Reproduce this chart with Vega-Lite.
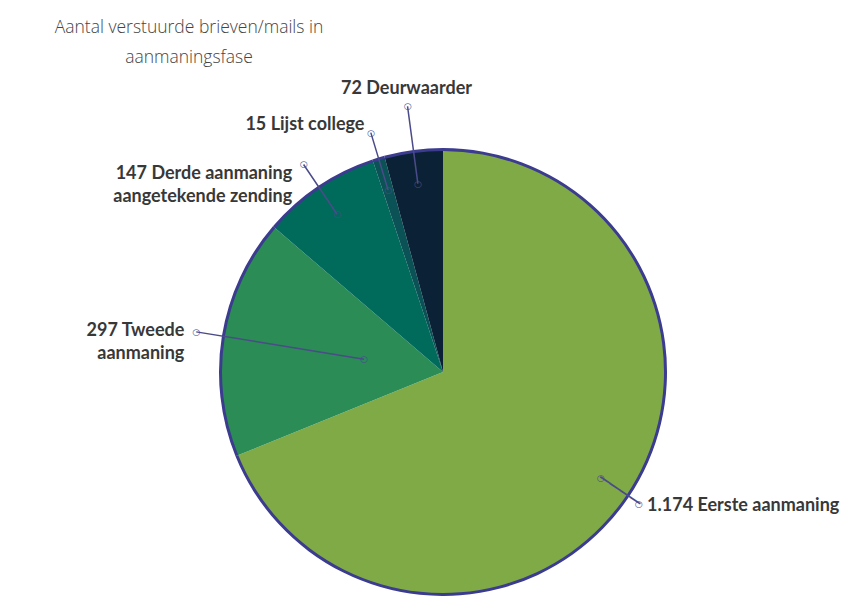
{
  "$schema": "https://vega.github.io/schema/vega-lite/v6.json",
  "width": 826,
  "height": 448,
  "autosize": "none",
  "padding": {"left": 30, "top": 148, "right": 0, "bottom": 0},
  "background": "white",
  "title": {
    "text": ["Aantal verstuurde brieven/mails in", "aanmaningsfase"],
    "anchor": "start",
    "frame": "group",
    "align": "center",
    "dx": 159,
    "offset": 14,
    "font": "Open Sans",
    "fontSize": 17.5,
    "fontWeight": 300,
    "color": "#454545",
    "lineHeight": 30
  },
  "config": {"view": {"stroke": null}},
  "data": {
    "values": [
      {"categorie": "Eerste aanmaning", "aantal": 1174, "volgorde": 1, "label": "1.174  Eerste aanmaning"},
      {"categorie": "Tweede aanmaning", "aantal": 297, "volgorde": 2, "label": "297 Tweede\naanmaning"},
      {"categorie": "Derde aanmaning aangetekende zending", "aantal": 147, "volgorde": 3, "label": "147 Derde aanmaning\naangetekende zending"},
      {"categorie": "Lijst college", "aantal": 15, "volgorde": 4, "label": "15 Lijst college"},
      {"categorie": "Deurwaarder", "aantal": 72, "volgorde": 5, "label": "72 Deurwaarder"}
    ]
  },
  "encoding": {
    "theta": {"field": "aantal", "type": "quantitative", "stack": true},
    "order": {"field": "volgorde", "type": "quantitative"}
  },
  "layer": [
    {
      "mark": {"type": "arc", "radius": 222, "strokeWidth": 0},
      "encoding": {
        "color": {
          "field": "categorie",
          "type": "nominal",
          "scale": {
            "domain": ["Eerste aanmaning", "Tweede aanmaning", "Derde aanmaning aangetekende zending", "Lijst college", "Deurwaarder"],
            "range": ["#80aa45", "#2b8c55", "#006a5b", "#0b5257", "#0b2236"]
          },
          "legend": null
        }
      }
    },
    {
      "mark": {"type": "arc", "radius": 224, "radius2": 221, "color": "#3b3b8f"}
    },
    {
      "mark": {"type": "text", "radius": 213, "angle": 34, "font": "DejaVu Sans Mono", "fontSize": 20, "color": "#4b4b8a", "align": "center", "baseline": "middle"},
      "encoding": {
        "text": {"condition": {"test": "datum.categorie === 'Eerste aanmaning'", "value": "────"}, "value": ""}
      }
    },
    {
      "mark": {"type": "arc", "radius": 250, "radius2": 80, "padAngle": 3.14, "filled": false, "stroke": "#4b4b8a", "strokeWidth": 1.5},
      "encoding": {"opacity": {"condition": {"test": "datum.categorie === 'Tweede aanmaning'", "value": 1}, "value": 0}}
    },
    {
      "mark": {"type": "arc", "radius": 250, "radius2": 190, "padAngle": 3.14, "filled": false, "stroke": "#4b4b8a", "strokeWidth": 1.5},
      "encoding": {"opacity": {"condition": {"test": "datum.categorie === 'Lijst college' || datum.categorie === 'Derde aanmaning aangetekende zending'", "value": 1}, "value": 0}}
    },
    {
      "mark": {"type": "arc", "radius": 268, "radius2": 190, "padAngle": 3.14, "filled": false, "stroke": "#4b4b8a", "strokeWidth": 1.5},
      "encoding": {"opacity": {"condition": {"test": "datum.categorie === 'Deurwaarder'", "value": 1}, "value": 0}}
    },
    {
      "mark": {"type": "text", "radius": 190, "font": "DejaVu Sans", "fontSize": 9, "color": "#4b4b8a", "align": "center", "baseline": "middle"},
      "encoding": {
        "text": {"value": "○"},
        "opacity": {"condition": {"test": "datum.categorie !== 'Tweede aanmaning'", "value": 1}, "value": 0}
      }
    },
    {
      "mark": {"type": "text", "radius": 80, "font": "DejaVu Sans", "fontSize": 9, "color": "#4b4b8a", "align": "center", "baseline": "middle"},
      "encoding": {
        "text": {"value": "○"},
        "opacity": {"condition": {"test": "datum.categorie === 'Tweede aanmaning'", "value": 1}, "value": 0}
      }
    },
    {
      "mark": {"type": "text", "radius": 236, "font": "DejaVu Sans", "fontSize": 9, "color": "#4b4b8a", "align": "center", "baseline": "middle"},
      "encoding": {
        "text": {"value": "○"},
        "opacity": {"condition": {"test": "datum.categorie === 'Eerste aanmaning'", "value": 1}, "value": 0}
      }
    },
    {
      "mark": {"type": "text", "radius": 250, "font": "DejaVu Sans", "fontSize": 9, "color": "#4b4b8a", "align": "center", "baseline": "middle"},
      "encoding": {
        "text": {"value": "○"},
        "opacity": {"condition": {"test": "datum.categorie === 'Tweede aanmaning' || datum.categorie === 'Lijst college' || datum.categorie === 'Derde aanmaning aangetekende zending'", "value": 1}, "value": 0}
      }
    },
    {
      "mark": {"type": "text", "radius": 268, "font": "DejaVu Sans", "fontSize": 9, "color": "#4b4b8a", "align": "center", "baseline": "middle"},
      "encoding": {
        "text": {"value": "○"},
        "opacity": {"condition": {"test": "datum.categorie === 'Deurwaarder'", "value": 1}, "value": 0}
      }
    },
    {
      "mark": {"type": "text", "radius": 258, "dx": -4, "align": "right", "baseline": "middle", "lineBreak": "\n", "font": "Lato", "fontWeight": 700, "fontSize": 18, "lineHeight": 23, "color": "#383838"},
      "encoding": {
        "text": {"condition": {"test": "datum.categorie === 'Tweede aanmaning' || datum.categorie === 'Lijst college'", "field": "label", "type": "nominal"}, "value": ""}
      }
    },
    {
      "mark": {"type": "text", "radius": 256, "dx": -8, "dy": 6, "align": "right", "baseline": "top", "lineBreak": "\n", "font": "Lato", "fontWeight": 700, "fontSize": 18, "lineHeight": 23, "color": "#383838"},
      "encoding": {
        "text": {"condition": {"test": "datum.categorie === 'Derde aanmaning aangetekende zending'", "field": "label", "type": "nominal"}, "value": ""}
      }
    },
    {
      "mark": {"type": "text", "radius": 240, "dx": 5, "align": "left", "baseline": "middle", "lineBreak": "\n", "font": "Lato", "fontWeight": 700, "fontSize": 18, "lineHeight": 23, "color": "#383838"},
      "encoding": {
        "text": {"condition": {"test": "datum.categorie === 'Eerste aanmaning'", "field": "label", "type": "nominal"}, "value": ""}
      }
    },
    {
      "mark": {"type": "text", "radius": 276, "align": "center", "baseline": "bottom", "lineBreak": "\n", "font": "Lato", "fontWeight": 700, "fontSize": 18, "lineHeight": 23, "color": "#383838"},
      "encoding": {
        "text": {"condition": {"test": "datum.categorie === 'Deurwaarder'", "field": "label", "type": "nominal"}, "value": ""}
      }
    }
  ]
}
